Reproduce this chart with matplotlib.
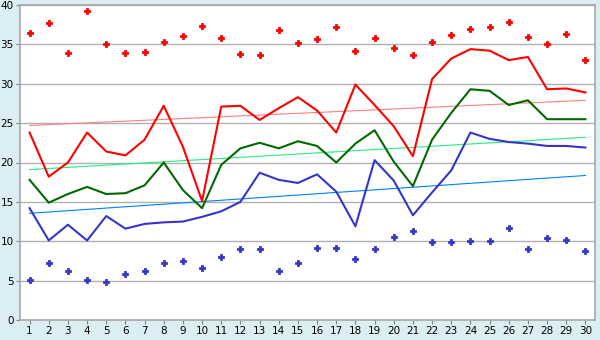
"""Recreate the line chart with scatter points and trend lines"""

import matplotlib

matplotlib.use("Agg")
import matplotlib.pyplot as plt

days = list(range(1, 31))

# верхние точки (красные)
red_dots = [36.4, 37.7, 33.9, 39.2, 35.0, 33.9, 34.0, 35.3, 36.1, 37.3,
            35.8, 33.8, 33.6, 36.8, 35.2, 35.7, 37.2, 34.1, 35.8, 34.6,
            33.6, 35.3, 36.2, 36.9, 37.2, 37.8, 36.0, 35.0, 36.3, 33.0]
red_line = [23.8, 18.2, 20.0, 23.8, 21.4, 20.9, 22.9, 27.2, 22.0, 15.1,
            27.1, 27.2, 25.4, 26.9, 28.3, 26.6, 23.8, 29.9, 27.3, 24.6,
            20.8, 30.6, 33.2, 34.4, 34.2, 33.0, 33.4, 29.3, 29.4, 28.9]
green_line = [17.8, 14.9, 16.0, 16.9, 16.0, 16.1, 17.1, 20.0, 16.5, 14.2,
              19.7, 21.8, 22.5, 21.8, 22.7, 22.1, 20.0, 22.4, 24.1, 20.1,
              17.0, 22.9, 26.3, 29.3, 29.1, 27.3, 27.9, 25.5, 25.5, 25.5]
blue_line = [14.2, 10.1, 12.1, 10.1, 13.2, 11.6, 12.2, 12.4, 12.5, 13.1,
             13.8, 15.0, 18.7, 17.8, 17.4, 18.5, 16.3, 11.9, 20.3, 17.7,
             13.3, 16.2, 19.0, 23.8, 23.0, 22.6, 22.4, 22.1, 22.1, 21.9]
# нижние точки (синие)
blue_dots = [5.1, 7.2, 6.2, 5.1, 4.8, 5.9, 6.2, 7.2, 7.5, 6.6,
             8.0, 9.0, 9.0, 6.2, 7.2, 9.1, 9.1, 7.7, 9.0, 10.5,
             11.3, 9.9, 9.9, 10.0, 10.0, 11.7, 9.0, 10.4, 10.1, 8.7]

# линии тренда: значения в первый и последний день
trend_x = [1, 30]
red_trend = [24.7, 27.9]
green_trend = [19.1, 23.2]
blue_trend = [13.55, 18.35]


def main() -> None:
    """main function"""
    bg = "#daeef4"
    fig = plt.figure(figsize=(6, 3.4), dpi=100, facecolor=bg)
    ax = fig.add_axes([20 / 600, 20 / 340, 575 / 600, 315 / 340])
    ax.set_facecolor("white")

    ax.plot(trend_x, red_trend, color="#ff8080", lw=0.8)
    ax.plot(trend_x, green_trend, color="#20f080", lw=0.8)
    ax.plot(trend_x, blue_trend, color="#0080ff", lw=0.8)

    ax.plot(days, red_line, color="#ff0000", lw=1.5)
    ax.plot(days, green_line, color="#006a00", lw=1.5)
    ax.plot(days, blue_line, color="#3535c8", lw=1.5)

    ax.plot(days, red_dots, ls="none", marker="P", ms=4.5, mew=0.6,
            color="#ff0000")
    ax.plot(days, blue_dots, ls="none", marker="P", ms=4.5, mew=0.6,
            color="#3535c8")

    ax.set_xlim(0.5, 30.5)
    ax.set_ylim(0, 40)
    ax.set_xticks(days)
    ax.set_yticks(range(0, 41, 5))
    ax.grid(axis="y", color="#b0b0b0", lw=1)
    ax.set_axisbelow(True)
    for s in ax.spines.values():
        s.set_color("#a8a8a8")
        s.set_linewidth(1.2)
    ax.tick_params(axis="both", colors="#808080", labelcolor="black",
                   labelsize=7.5, length=3, pad=1.5)
    fig.savefig("out.png", dpi=100, facecolor=bg)


if __name__ == "__main__":
    main()
